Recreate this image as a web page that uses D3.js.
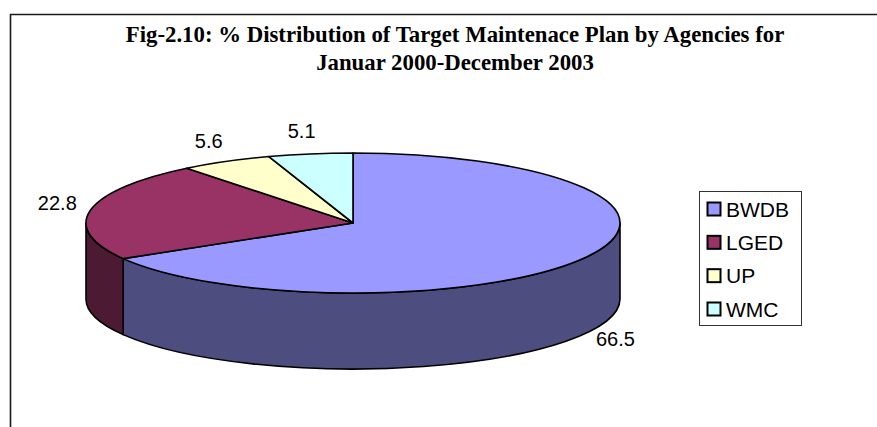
<!DOCTYPE html>
<html>
<head>
<meta charset="utf-8">
<script src="https://cdn.jsdelivr.net/npm/d3@7"></script>
<style>
  html, body { margin: 0; padding: 0; background: #fff; }
  svg { display: block; }
</style>
</head>
<body>
<svg id="chart" width="877" height="427"></svg>
<script>
// Agencies and their share (%) of the target maintenance plan
const agencies = ["BWDB", "LGED", "UP", "WMC"];
const shares = [66.5, 22.8, 5.6, 5.1];
const topColors = ["#9999FF", "#993366", "#FFFFCC", "#CCFFFF"];
const sideColors = ["#4D4D80", "#4D1A33", "#808066", "#668080"];
const titleLines = [
  "Fig-2.10: % Distribution of Target Maintenace Plan by Agencies for",
  "Januar 2000-December 2003"
];

const W = 877, H = 427;
const svg = d3.select("#chart");

// chart frame (extends past the right and bottom edges)
svg.append("path")
  .attr("d", `M10.5,${H + 5} V14.5 H${W + 5}`)
  .attr("fill", "none").attr("stroke", "#1a1a1a").attr("stroke-width", 1.6);

// title
const title = svg.append("text")
  .attr("text-anchor", "middle")
  .attr("font-family", "'Liberation Serif', 'Times New Roman', serif")
  .attr("font-weight", "bold")
  .attr("font-size", 22.8)
  .attr("fill", "#000");
titleLines.forEach((t, i) => {
  title.append("tspan").attr("x", 455).attr("y", 42 + i * 28).text(t);
});

// 3-D pie geometry
const cx = 353, cy = 223, rx = 267, ry = 70, depth = 76;
const pie = d3.pie().sort(null).value(d => d.v);
const arcs = pie(agencies.map((a, i) => ({ name: a, v: shares[i], i })));

const pt = (a, dy = 0, ex = 0, ey = 0) =>
  [cx + (rx + ex) * Math.sin(a), cy - (ry + ey) * Math.cos(a) + dy];

function arcPath(a0, a1, dy, reverse) {
  const e = reverse ? a0 : a1;
  const p = pt(e, dy);
  const large = Math.abs(a1 - a0) > Math.PI ? 1 : 0;
  const sweep = reverse ? 0 : 1;
  return `A${rx},${ry} 0 ${large} ${sweep} ${p[0]},${p[1]}`;
}

const g = svg.append("g");

// outer walls: only the front half (angles PI/2 .. 3PI/2) faces the viewer
arcs.forEach(d => {
  const a0 = Math.max(d.startAngle, Math.PI / 2);
  const a1 = Math.min(d.endAngle, 3 * Math.PI / 2);
  if (a1 <= a0) return;
  const s = pt(a0), sb = pt(a1, depth);
  const path = `M${s[0]},${s[1]} ${arcPath(a0, a1, 0, false)} L${sb[0]},${sb[1]} ` +
    `${arcPath(a0, a1, depth, true)} Z`;
  g.append("path")
    .attr("d", path)
    .attr("fill", sideColors[d.data.i])
    .attr("stroke", "#000").attr("stroke-width", 1.6)
    .attr("stroke-linejoin", "round");
});

// top faces
arcs.forEach(d => {
  const s = pt(d.startAngle);
  const path = `M${cx},${cy} L${s[0]},${s[1]} ${arcPath(d.startAngle, d.endAngle, 0, false)} Z`;
  g.append("path")
    .attr("d", path)
    .attr("fill", topColors[d.data.i])
    .attr("stroke", "#000").attr("stroke-width", 1.6)
    .attr("stroke-linejoin", "round");
});

// value labels placed outside the rim, pushed out by half their width
const fmt = d3.format(".1f");
arcs.forEach(d => {
  const m = (d.startAngle + d.endAngle) / 2;
  const front = Math.cos(m) < 0;
  const [x, y] = pt(m, front ? depth : 0, 10, 19);
  const label = svg.append("text")
    .attr("y", y)
    .attr("dy", "0.15em")
    .attr("text-anchor", "middle")
    .attr("font-family", "'Liberation Sans', Arial, sans-serif")
    .attr("font-size", 20)
    .attr("fill", "#000")
    .text(fmt(d.data.v));
  const w = label.node().getComputedTextLength();
  label.attr("x", x + Math.sign(Math.sin(m)) * (w / 2 + 4) * Math.sqrt(Math.abs(Math.sin(m))));
});

// legend
const lg = svg.append("g");
lg.append("rect")
  .attr("x", 699.5).attr("y", 191.5).attr("width", 102).attr("height", 134)
  .attr("fill", "#fff").attr("stroke", "#333").attr("stroke-width", 1);
const rowY = d3.scalePoint().domain(agencies).range([209, 309]);
agencies.forEach((a, i) => {
  const y = rowY(a);
  lg.append("rect")
    .attr("x", 707.5).attr("y", y - 6.5).attr("width", 13).attr("height", 13)
    .attr("fill", topColors[i]).attr("stroke", "#000").attr("stroke-width", 2);
  lg.append("text")
    .attr("x", 726).attr("y", y).attr("dy", "0.36em")
    .attr("font-family", "'Liberation Sans', Arial, sans-serif")
    .attr("font-size", 21)
    .attr("fill", "#000")
    .text(a);
});
</script>
</body>
</html>
